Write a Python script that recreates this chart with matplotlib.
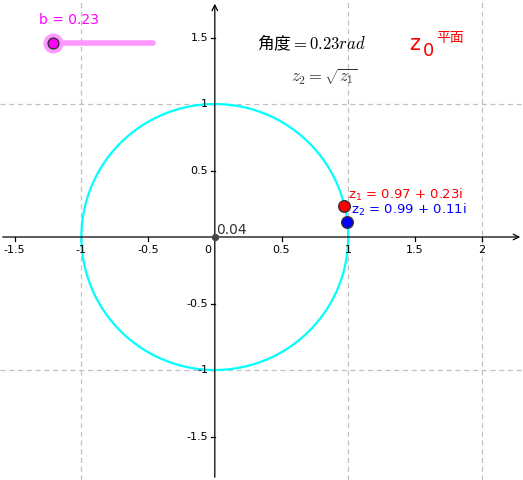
import numpy as np
import matplotlib
matplotlib.use("Agg")
import matplotlib.pyplot as plt

plt.rcParams['font.family'] = ['DejaVu Sans', 'Noto Sans CJK SC']

b = 0.23
z1 = (0.97, 0.23)
z2 = (0.99, 0.11)
xticks = [-1.5, -1, -0.5, 0.5, 1, 1.5, 2]
yticks = [-1.5, -1, -0.5, 0.5, 1, 1.5]

fig = plt.figure(figsize=(5.23, 4.8), dpi=100)
ax = fig.add_axes([0, 0, 1, 1])
ax.set_xlim(-1.61, 2.31)
ax.set_ylim(-1.827, 1.782)
ax.axis('off')

for g in [-1, 1, 2]:
    ax.axvline(g, color='#c0c0c0', ls=(0, (4, 3)), lw=0.9, zorder=0)
for g in [-1, 1]:
    ax.axhline(g, color='#c0c0c0', ls=(0, (4, 3)), lw=0.9, zorder=0)

# axes with arrows
ax.annotate('', xy=(2.31, 0), xytext=(-1.61, 0),
            arrowprops=dict(arrowstyle='->', lw=0.9, color='black'))
ax.annotate('', xy=(0, 1.775), xytext=(0, -1.827),
            arrowprops=dict(arrowstyle='->', lw=0.9, color='black'))
for t in xticks:
    ax.plot([t, t], [0, -0.03], color='black', lw=0.9)
    ax.text(t, -0.06, f"{t:g}", ha='center', va='top', fontsize=8)
ax.text(-0.03, -0.06, "0", ha='right', va='top', fontsize=8)
for t in yticks:
    ax.plot([0, -0.03], [t, t], color='black', lw=0.9)
    ax.text(-0.05, t, f"{t:g}", ha='right', va='center', fontsize=8)

th = np.linspace(0, 2 * np.pi, 400)
ax.plot(np.cos(th), np.sin(th), color='#00ffff', lw=1.6, zorder=2)

ax.scatter([0], [0], s=18, color='#444444', zorder=4)
ax.text(0.01, 0.0, "0.04", fontsize=10, color='#333333', va='bottom')

ax.scatter([z1[0]], [z1[1]], s=70, color='red', edgecolor='#333333', zorder=5)
ax.scatter([z2[0]], [z2[1]], s=70, color='blue', edgecolor='#333333', zorder=5)
ax.text(1.0, 0.29, f"z$_1$ = {z1[0]:.2f} + {z1[1]:.2f}i", color='red', fontsize=9.5)
ax.text(1.02, 0.17, f"z$_2$ = {z2[0]:.2f} + {z2[1]:.2f}i", color='blue', fontsize=9.5)

# slider
ax.plot([-1.21, -0.46], [1.46, 1.46], color='#ff99ff', lw=4, solid_capstyle='round', zorder=3)
ax.scatter([-1.21], [1.46], s=180, color='#ff99ff', zorder=4)
ax.scatter([-1.21], [1.46], s=60, color='#ff00ff', edgecolor='#333333', zorder=5)
ax.text(-1.32, 1.6, f"b = {b}", color='#ff00ff', fontsize=10)

ax.text(0.72, 1.46, "角度$=0.23rad$", ha='center', va='center', fontsize=12,
        family=['Noto Sans CJK SC', 'DejaVu Sans'], math_fontfamily='cm')
ax.text(0.82, 1.21, r"$z_2=\sqrt{z_1}$", ha='center', va='center', fontsize=12,
        color='#333333', math_fontfamily='cm')
ax.text(1.46, 1.45, "z", color='red', fontsize=15, va='center')
ax.text(1.56, 1.40, "0", color='red', fontsize=13, va='center')
ax.text(1.66, 1.5, "平面", color='red', fontsize=10, va='center',
        family=['Noto Sans CJK SC', 'DejaVu Sans'])

fig.savefig("out.png", dpi=100)
